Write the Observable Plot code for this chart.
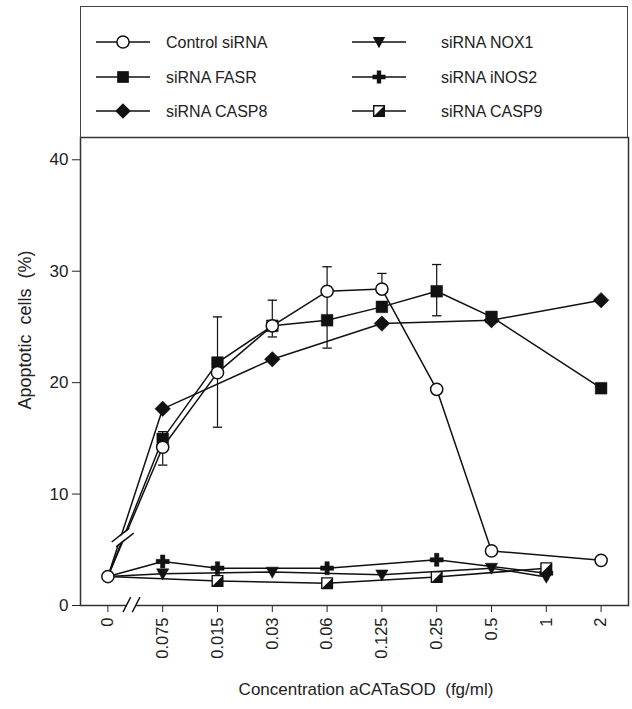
<!DOCTYPE html>
<html><head><meta charset="utf-8">
<script src="https://cdn.jsdelivr.net/npm/d3@7"></script>
<script src="https://cdn.jsdelivr.net/npm/@observablehq/plot@0.6"></script>
<style>
body{margin:0;background:#fff;}
#wrap{position:relative;width:632px;height:709px;font-family:"Liberation Sans",Arial,sans-serif;color:#222;}
#legend{position:absolute;left:80px;top:6px;width:548px;height:132px;box-sizing:border-box;border:1.5px solid #444;border-bottom:none;}
.lab{position:absolute;font-size:17px;white-space:pre;transform:translate(-50%,-50%);}
#ylab{font-size:18px;transform:translate(-50%,-50%) rotate(-90deg);}
svg{overflow:visible;}
svg text{font-family:"Liberation Sans",Arial,sans-serif;}
#chart g[aria-label="y-axis tick label"]{font-size:17px;}
#chart g[aria-label="x-axis tick label"]{font-size:16.5px;}
</style></head><body><div id="wrap"><div id="legend"></div></div>
<script>
// ---- data ----
const xLabels = ["0","0.075","0.015","0.03","0.06","0.125","0.25","0.5","1","2"];
const controlVals = [2.6, 14.2, 20.9, 25.1, 28.2, 28.4, 19.4, 4.9, null, 4.05];
const fasrVals    = [2.6, 14.95, 21.8, 25.1, 25.6, 26.8, 28.2, 25.9, null, 19.5];
const casp8Vals   = [2.6, 17.65, null, 22.1, null, 25.3, null, 25.6, null, 27.4];
const nox1Vals    = [2.6, 2.85, null, 3.0, null, 2.75, null, 3.35, 2.55, null];
const inos2Vals   = [2.6, 3.95, 3.35, null, 3.35, null, 4.1, null, 2.9, null];
const casp9Vals   = [2.6, null, 2.2, null, 2.0, null, 2.55, null, 3.35, null];
const errIndex = [1, 2, 3, 4, 5, 6];
const errLow   = [12.6, 16.0, 24.1, 23.1, 28.4, 26.0];
const errHigh  = [15.6, 25.9, 27.4, 30.4, 29.8, 30.6];
const yTicks = [0, 10, 20, 30, 40];
const yLabel = "Apoptotic  cells  (%)";
const xLabel = "Concentration aCATaSOD  (fg/ml)";
// decorative axis-break positions (index, value)
const lineBreak = {i: 0.27, v: 6.1};
const axisBreak = {i: 0.43, v: 0};

// ---- symbols ----
const triDown = {draw(ctx, size){ const w = Math.sqrt(size)*0.56; ctx.moveTo(-w,-0.8*w); ctx.lineTo(w,-0.8*w); ctx.lineTo(0,w); ctx.closePath(); }};
const halfTri = {draw(ctx, size){ const h = Math.sqrt(size)/2; ctx.moveTo(h,-h); ctx.lineTo(h,h); ctx.lineTo(-h,h); ctx.closePath(); }};

const series = [
  {name:"Control siRNA", vals: controlVals, kind:"circle"},
  {name:"siRNA FASR",    vals: fasrVals,    kind:"square"},
  {name:"siRNA CASP8",   vals: casp8Vals,   kind:"diamond"},
  {name:"siRNA NOX1",    vals: nox1Vals,    kind:"tri"},
  {name:"siRNA iNOS2",   vals: inos2Vals,   kind:"plus"},
  {name:"siRNA CASP9",   vals: casp9Vals,   kind:"half"}
];
const tidy = vals => vals.map((v,i)=>({i, v})).filter(d => d.v != null);
const errData = errIndex.map((i,k)=>({i, lo: errLow[k], hi: errHigh[k]}));
const symR = {circle: 6.1, square: 6.6, diamond: 7.0, tri: 6.2, plus: 5.5, half: 6.0};

function markerMarks(kind, data){
  const r = symR[kind];
  switch(kind){
    case "circle": return [Plot.dot(data,{x:"i",y:"v",r,fill:"white",stroke:"#111",strokeWidth:1.5})];
    case "square": return [Plot.dot(data,{x:"i",y:"v",symbol:"square",r,fill:"#111",stroke:"#111",strokeWidth:0.5})];
    case "diamond": return [Plot.dot(data,{x:"i",y:"v",symbol:"diamond2",r,fill:"#111",stroke:"#111",strokeWidth:0.5})];
    case "tri": return [Plot.dot(data,{x:"i",y:"v",symbol:triDown,r,fill:"#111",stroke:"#111",strokeWidth:0.5})];
    case "plus": return [Plot.dot(data,{x:"i",y:"v",symbol:"cross",r,fill:"#111",stroke:"#111",strokeWidth:0.5})];
    case "half": return [
      Plot.dot(data,{x:"i",y:"v",symbol:"square",r,fill:"white",stroke:"#111",strokeWidth:1.4}),
      Plot.dot(data,{x:"i",y:"v",symbol:halfTri,r,fill:"#111"})
    ];
  }
}

const lines = series.map(s => Plot.line(tidy(s.vals), {x:"i", y:"v", stroke:"#111", strokeWidth:1.5}));
const markerOrder = ["square","diamond","tri","plus","half","circle"];
const markers = markerOrder.flatMap(k => {
  const s = series.find(d => d.kind === k);
  const data = tidy(s.vals).filter(d => k === "circle" || d.i > 0);
  return markerMarks(k, data);
});

// break marks (offsets in index / value units)
const lb = lineBreak, ab = axisBreak;
const lbStrokes = [-1, 1].map(sgn => ({x1: lb.i + sgn*0.04 - 0.16, y1: lb.v - sgn*0.22 - 0.62, x2: lb.i + sgn*0.04 + 0.16, y2: lb.v - sgn*0.22 + 0.62}));
const abStrokes = [-1, 1].map(sgn => ({x1: ab.i + sgn*0.085 - 0.07, y1: ab.v - 0.6, x2: ab.i + sgn*0.085 + 0.07, y2: ab.v + 0.75}));

const chart = Plot.plot({
  width: 632, height: 709,
  marginLeft: 80, marginRight: 4, marginTop: 137, marginBottom: 104,
  style: {fontFamily: '"Liberation Sans", Arial, sans-serif', fontSize: "16px", color: "#222", background: "white"},
  x: {domain: [-0.5, 9.5], ticks: d3.range(xLabels.length), tickFormat: i => xLabels[i], tickRotate: -90, tickSize: 7, tickPadding: 5, label: null},
  y: {domain: [0, 42], ticks: yTicks, tickSize: 8, tickPadding: 4, label: null},
  marks: [
    Plot.frame({stroke:"#333", strokeWidth:1.5}),
    ...lines,
    Plot.ruleX(errData, {x:"i", y1:"lo", y2:"hi", stroke:"#111", strokeWidth:1.2}),
    Plot.link(errData, {x1: d=>d.i-0.085, x2: d=>d.i+0.085, y1:"hi", y2:"hi", stroke:"#111", strokeWidth:1.3}),
    Plot.link(errData, {x1: d=>d.i-0.085, x2: d=>d.i+0.085, y1:"lo", y2:"lo", stroke:"#111", strokeWidth:1.3}),
    // line break: white gap + two strokes
    Plot.link([lb], {x1: d=>d.i-0.16, y1: d=>d.v-0.62, x2: d=>d.i+0.16, y2: d=>d.v+0.62, stroke:"white", strokeWidth:5}),
    Plot.link(lbStrokes, {x1:"x1", y1:"y1", x2:"x2", y2:"y2", stroke:"#111", strokeWidth:1.5}),
    // axis break
    Plot.link([ab], {x1: d=>d.i-0.085, x2: d=>d.i+0.085, y1: d=>d.v, y2: d=>d.v, stroke:"white", strokeWidth:4}),
    Plot.link(abStrokes, {x1:"x1", y1:"y1", x2:"x2", y2:"y2", stroke:"#111", strokeWidth:1.4}),
    ...markers
  ]
});
chart.id = "chart";
const wrap = document.getElementById("wrap");
wrap.insertBefore(chart, wrap.firstChild);
chart.style.position = "absolute"; chart.style.left = "0"; chart.style.top = "0";

// axis titles
const yl = document.createElement("div"); yl.className = "lab"; yl.id = "ylab"; yl.textContent = yLabel;
yl.style.left = "25px"; yl.style.top = "330px"; wrap.appendChild(yl);
const xl = document.createElement("div"); xl.className = "lab"; xl.textContent = xLabel;
xl.style.left = "366px"; xl.style.top = "690px"; wrap.appendChild(xl);

// legend
const legendCols = [{sx: 42, tx: 85}, {sx: 298, tx: 360}];
const legendRows = [35, 70, 104];
const lsvg = d3.select("#legend").append("svg").attr("width", 546).attr("height", 130)
  .style("position","absolute").style("left","0").style("top","0");
const symMap = {circle: d3.symbolCircle, square: d3.symbolSquare, diamond: d3.symbolDiamond2, tri: triDown, plus: d3.symbolCross, half: d3.symbolSquare};
series.forEach((s, k) => {
  const col = legendCols[Math.floor(k/3)], y = legendRows[k%3];
  const g = lsvg.append("g").attr("transform", `translate(${col.sx},${y})`);
  g.append("line").attr("x1",-27).attr("x2",27).attr("stroke","#111").attr("stroke-width",1.5);
  const size = Math.PI*symR[s.kind]*symR[s.kind];
  const p = g.append("path").attr("d", d3.symbol(symMap[s.kind], size)());
  if (s.kind === "circle") p.attr("fill","white").attr("stroke","#111").attr("stroke-width",1.5);
  else if (s.kind === "half") { p.attr("fill","white").attr("stroke","#111").attr("stroke-width",1.4);
    g.append("path").attr("d", d3.symbol(halfTri, size)()).attr("fill","#111"); }
  else p.attr("fill","#111");
  lsvg.append("text").attr("x", col.tx).attr("y", y).attr("dy","0.35em")
    .attr("font-size", 16).attr("fill", "#222").text(s.name);
});
</script></body></html>
